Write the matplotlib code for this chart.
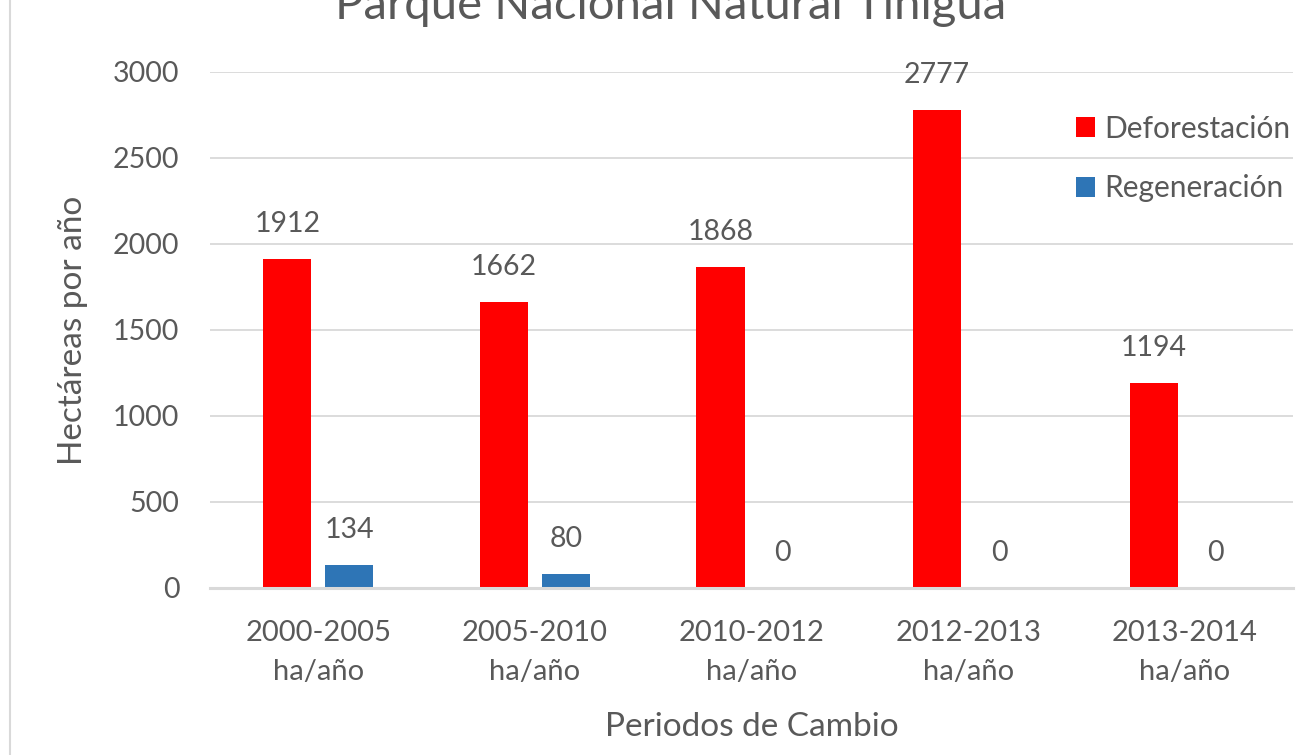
import matplotlib
matplotlib.use("Agg")
import matplotlib.pyplot as plt
import numpy as np
from matplotlib.patches import Patch
from matplotlib.lines import Line2D

plt.rcParams['font.family'] = ['Lato', 'DejaVu Sans']

categories = ["2000-2005\nha/año", "2005-2010\nha/año", "2010-2012\nha/año",
              "2012-2013\nha/año", "2013-2014\nha/año"]
deforestacion = [1912, 1662, 1868, 2777, 1194]
regeneracion = [134, 80, 0, 0, 0]

title = "Parque Nacional Natural Tinigua"
xlabel = "Periodos de Cambio"
ylabel = "Hectáreas por año"
series_names = ["Deforestación", "Regeneración"]
yticks = [0, 500, 1000, 1500, 2000, 2500, 3000]

RED = "#FF0000"
BLUE = "#2E75B6"
TXT = "#595959"
GRID = "#D9D9D9"

W, H = 1315, 755
fig = plt.figure(figsize=(W / 100, H / 100), dpi=100)
ax = fig.add_axes([210 / W, 1 - 588 / H, (1293 - 210) / W, (588 - 72) / H])

x = np.arange(len(categories))
bw = 0.222
off = 0.143
b1 = ax.bar(x - off, deforestacion, bw, color=RED, zorder=3)
b2 = ax.bar(x + off, regeneracion, bw, color=BLUE, zorder=3)

for rects, vals in ((b1, deforestacion), (b2, regeneracion)):
    for r, v in zip(rects, vals):
        ax.annotate(str(v), (r.get_x() + r.get_width() / 2, v),
                    xytext=(0, 35 * 72 / 100), textcoords="offset points",
                    ha="center", va="center", fontsize=20.5, color=TXT)

ax.set_xlim(-0.5, len(categories) - 0.5)
ax.set_ylim(0, 3000)
ax.set_yticks(yticks)
ax.set_yticklabels([str(t) for t in yticks])
ax.set_xticks(x)
ax.set_xticklabels(categories, fontsize=21, color=TXT, linespacing=1.6)
ax.tick_params(axis="y", labelsize=20.5, labelcolor=TXT, length=0, pad=22)
ax.tick_params(axis="x", length=0, pad=23)
ax.grid(axis="y", color=GRID, linewidth=1.3, zorder=0)
for s in ["top", "right", "left"]:
    ax.spines[s].set_visible(False)
ax.spines["bottom"].set_color(GRID)
ax.spines["bottom"].set_linewidth(2.2)
ax.spines["bottom"].set_zorder(4)

ax.set_xlabel(xlabel, fontsize=24, color=TXT, labelpad=20)
ax.set_ylabel(ylabel, fontsize=24, color=TXT, labelpad=18)

fig.text(671 / W, 1 - 6 / H, title, ha="center", va="center", fontsize=34, color=TXT)

handles = [Patch(facecolor=RED), Patch(facecolor=BLUE)]
leg = ax.legend(handles, series_names, loc="upper left",
                bbox_to_anchor=(1061 / W, 1 - 100 / H), bbox_transform=fig.transFigure,
                frameon=False, fontsize=21.5, labelcolor=TXT,
                handlelength=0.65, handleheight=0.65, handletextpad=0.3,
                labelspacing=1.05, borderpad=0)

fig.add_artist(Line2D([10 / W, 10 / W], [0, 1], transform=fig.transFigure,
                      color=GRID, linewidth=1.5))

fig.savefig("out.png", dpi=100)
